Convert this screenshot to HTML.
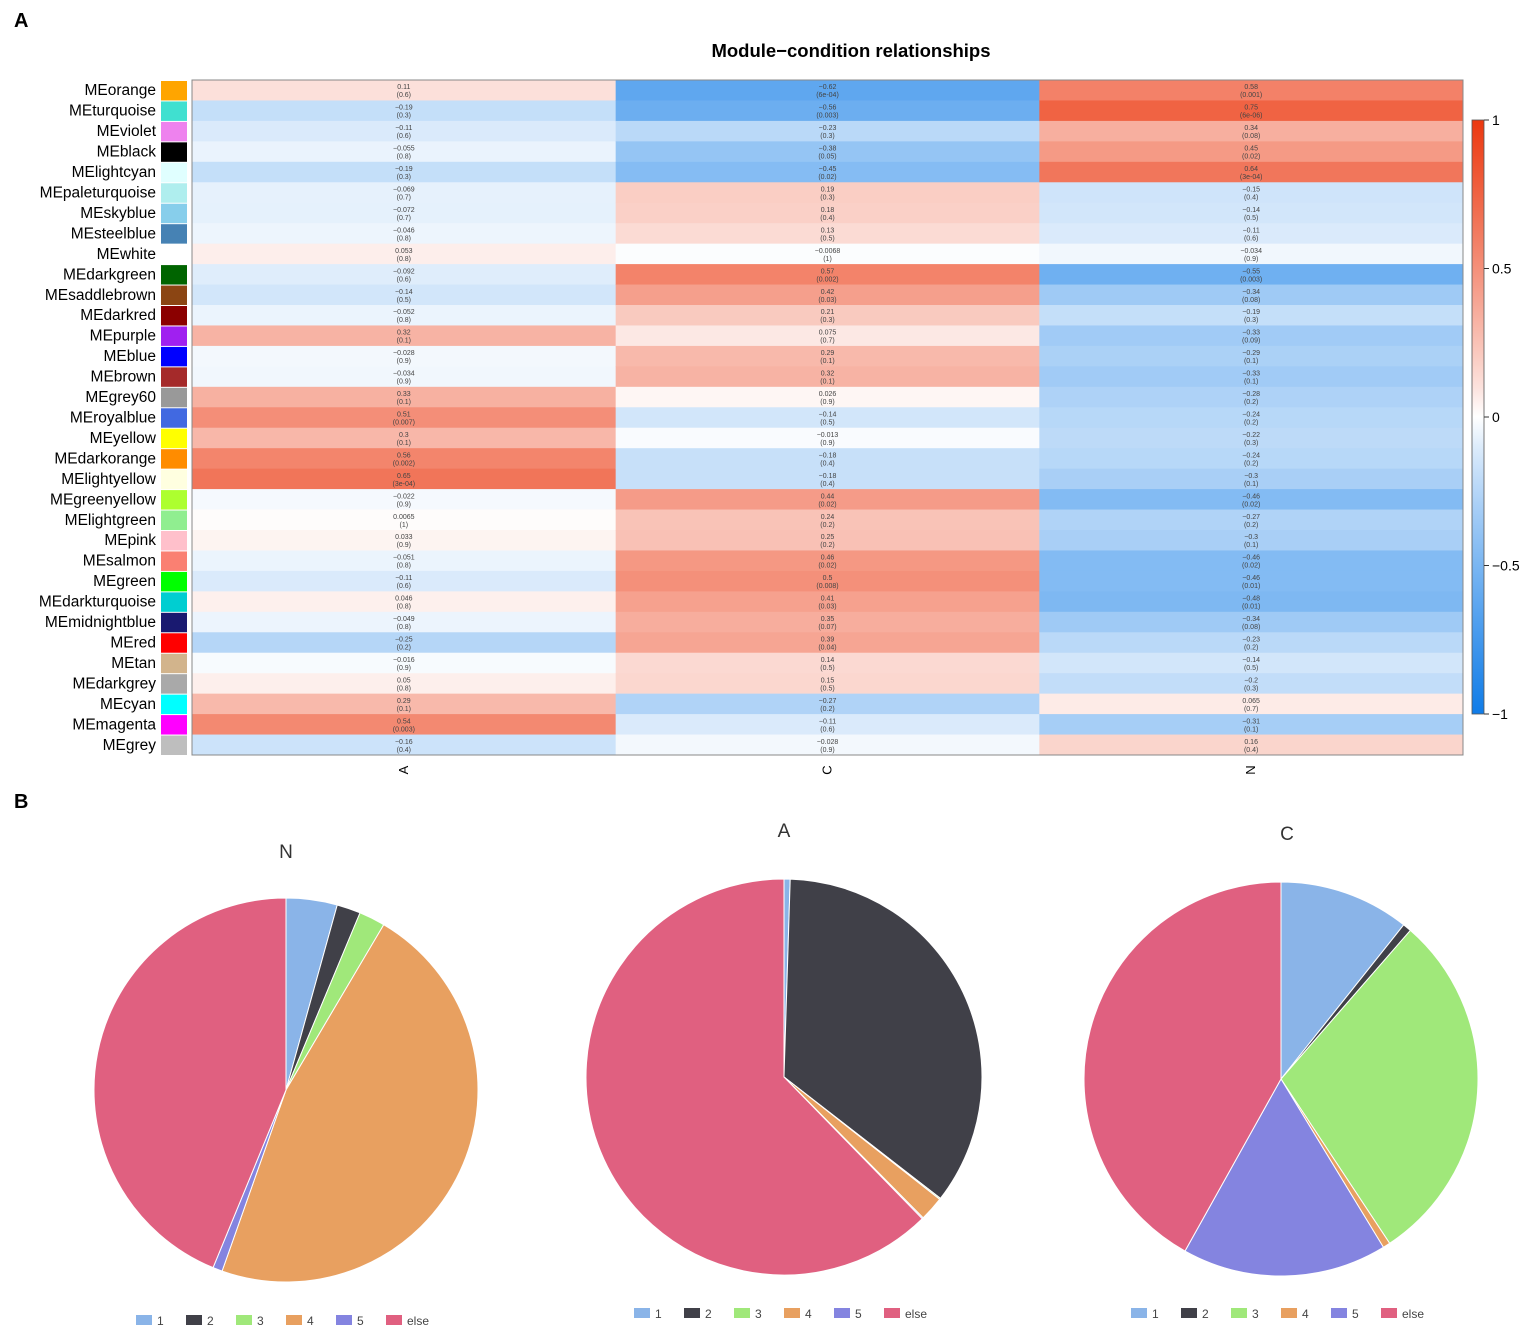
<!DOCTYPE html>
<html><head><meta charset="utf-8"><style>
body{margin:0;background:#fff;}
svg{display:block;font-family:"Liberation Sans",sans-serif;}
</style></head><body>
<svg id="fig" width="1535" height="1344">
<text x="14" y="27" font-size="20" font-weight="bold">A</text>
<text x="851" y="57" font-size="18.5" font-weight="bold" text-anchor="middle">Module−condition relationships</text>
<text x="14" y="808" font-size="20" font-weight="bold">B</text>
<g id="heat"></g>
<g id="legend"></g>
<g id="pies"></g>
</svg>
<script>
const modules=["orange","turquoise","violet","black","lightcyan","paleturquoise","skyblue","steelblue","white","darkgreen","saddlebrown","darkred","purple","blue","brown","grey60","royalblue","yellow","darkorange","lightyellow","greenyellow","lightgreen","pink","salmon","green","darkturquoise","midnightblue","red","tan","darkgrey","cyan","magenta","grey"];
const swatches=["#FFA500","#40E0D0","#EE82EE","#000000","#E0FFFF","#AFEEEE","#87CEEB","#4682B4","#FFFFFF","#006400","#8B4513","#8B0000","#A020F0","#0000FF","#A52A2A","#999999","#4169E1","#FFFF00","#FF8C00","#FFFFE0","#ADFF2F","#90EE90","#FFC0CB","#FA8072","#00FF00","#00CED1","#191970","#FF0000","#D2B48C","#A9A9A9","#00FFFF","#FF00FF","#BEBEBE"];
const conditions=["A","C","N"];
const corA=[0.11,-0.19,-0.11,-0.055,-0.19,-0.069,-0.072,-0.046,0.053,-0.092,-0.14,-0.052,0.32,-0.028,-0.034,0.33,0.51,0.3,0.56,0.65,-0.022,0.0065,0.033,-0.051,-0.11,0.046,-0.049,-0.25,-0.016,0.05,0.29,0.54,-0.16];
const pA=["0.6","0.3","0.6","0.8","0.3","0.7","0.7","0.8","0.8","0.6","0.5","0.8","0.1","0.9","0.9","0.1","0.007","0.1","0.002","3e-04","0.9","1","0.9","0.8","0.6","0.8","0.8","0.2","0.9","0.8","0.1","0.003","0.4"];
const corC=[-0.62,-0.56,-0.23,-0.38,-0.45,0.19,0.18,0.13,-0.0068,0.57,0.42,0.21,0.075,0.29,0.32,0.026,-0.14,-0.013,-0.18,-0.18,0.44,0.24,0.25,0.46,0.5,0.41,0.35,0.39,0.14,0.15,-0.27,-0.11,-0.028];
const pC=["6e-04","0.003","0.3","0.05","0.02","0.3","0.4","0.5","1","0.002","0.03","0.3","0.7","0.1","0.1","0.9","0.5","0.9","0.4","0.4","0.02","0.2","0.2","0.02","0.008","0.03","0.07","0.04","0.5","0.5","0.2","0.6","0.9"];
const corN=[0.58,0.75,0.34,0.45,0.64,-0.15,-0.14,-0.11,-0.034,-0.55,-0.34,-0.19,-0.33,-0.29,-0.33,-0.28,-0.24,-0.22,-0.24,-0.3,-0.46,-0.27,-0.3,-0.46,-0.46,-0.48,-0.34,-0.23,-0.14,-0.2,0.065,-0.31,0.16];
const pN=["0.001","6e-06","0.08","0.02","3e-04","0.4","0.5","0.6","0.9","0.003","0.08","0.3","0.09","0.1","0.1","0.2","0.2","0.3","0.2","0.1","0.02","0.2","0.1","0.02","0.01","0.01","0.08","0.2","0.5","0.3","0.7","0.1","0.4"];
const scaleTicks=[1,0.5,0,-0.5,-1];
const pieTitles=["N","A","C"];
const pieLabels=["1","2","3","4","5","else"];
const pieN=[4.3,2.0,2.2,46.9,0.8,43.8];
const pieA=[0.5,35.0,0.1,2.0,0.1,62.3];
const pieC=[10.7,0.7,29.3,0.6,16.8,41.9];

const NS="http://www.w3.org/2000/svg";
function mk(tag,attrs,parent,txt){const e=document.createElementNS(NS,tag);for(const k in attrs)e.setAttribute(k,attrs[k]);if(txt!==undefined)e.textContent=txt;parent.appendChild(e);return e;}
function col(v){let r,g,b;if(v>=0){const t=Math.pow(v,0.85);r=255-t*(255-236);g=255-t*(255-56);b=255-t*(255-16);}else{const t=Math.pow(-v,0.85);r=255-t*(255-16);g=255-t*(255-124);b=255-t*(255-232);}return `rgb(${r|0},${g|0},${b|0})`;}
const X0=192,X1=1463,Y0=80,Y1=755;
const n=modules.length,rh=(Y1-Y0)/n,cw=(X1-X0)/3;
const xPos=i=>X0+i*cw, yPos=i=>Y0+i*rh;
const heat=document.getElementById('heat');
const cors=[corA,corC,corN],ps=[pA,pC,pN];
for(let c=0;c<3;c++){for(let r=0;r<n;r++){
 const rect=mk('rect',{x:xPos(c),y:yPos(r),width:cw+0.5,height:rh+0.5,fill:col(cors[c][r])},heat);
 
 
 const t=mk('text',{x:xPos(c)+cw/2,y:yPos(r)+rh/2-1,'font-size':7,'text-anchor':'middle',fill:'#444'},heat,(cors[c][r]<0?'−':'')+Math.abs(cors[c][r]));
 
 
 const t2=mk('text',{x:xPos(c)+cw/2,y:yPos(r)+rh/2+7,'font-size':7,'text-anchor':'middle',fill:'#444'},heat,'('+ps[c][r]+')');
 
 
}
 const cl=mk('text',{x:0,y:0,'font-size':13,'text-anchor':'middle',transform:`translate(${xPos(c)+cw/2+4},770) rotate(-90)`},heat,conditions[c]);
 
 
}
mk('rect',{x:X0,y:Y0,width:X1-X0,height:Y1-Y0,fill:'none',stroke:'#888','stroke-width':1},heat);
for(let r=0;r<n;r++){
 const sw=mk('rect',{x:161,y:yPos(r)+1,width:26,height:rh-1,fill:swatches[r]},heat);
 
 
 const lb=mk('text',{x:156,y:yPos(r)+rh/2+5,'font-size':15.5,'text-anchor':'end'},heat,'ME'+modules[r]);
 
 
}
// legend
const lg=document.getElementById('legend');
const defs=mk('defs',{},lg);
const gr=mk('linearGradient',{id:'cg',x1:0,y1:0,x2:0,y2:1},defs);
for(let i=0;i<=20;i++){const v=1-i/10;mk('stop',{offset:(i/20),'stop-color':col(v)},gr);}
const LY0=120,LY1=714;const ly=v=>LY0+(1-v)/2*(LY1-LY0);
mk('rect',{x:1472,y:LY0,width:12,height:LY1-LY0,fill:'url(#cg)',stroke:'#555','stroke-width':0.8},lg);
scaleTicks.forEach(v=>{mk('line',{x1:1484,x2:1489,y1:ly(v),y2:ly(v),stroke:'#333'},lg);
 const t=mk('text',{x:1492,y:ly(v)+5,'font-size':14},lg,(v<0?'−':'')+Math.abs(v));
 
 });
// pies
const pieColors=["#8ab4e8","#404048","#a0e87a","#e8a060","#8484e0","#e06080"];
const pies=document.getElementById('pies');
const pieData=[pieN,pieA,pieC];
const geo=[{cx:286,cy:1090,r:192,ty:858,ly:1324},{cx:784,cy:1077,r:198,ty:837,ly:1317},{cx:1281,cy:1079,r:197,ty:840,ly:1317}];
pieData.forEach((d,pi)=>{const g=geo[pi];const tot=d.reduce((a,b)=>a+b,0);let a=0;
 const tt=mk('text',{x:g.cx+(pi==2?6:0),y:g.ty,'font-size':19,'text-anchor':'middle',fill:'#333'},pies,pieTitles[pi]);
 
 
 d.forEach((v,i)=>{const a0=a/tot*2*Math.PI;a+=v;const a1=a/tot*2*Math.PI;
  const x0=g.cx+g.r*Math.sin(a0),y0=g.cy-g.r*Math.cos(a0),x1=g.cx+g.r*Math.sin(a1),y1=g.cy-g.r*Math.cos(a1);
  const p=mk('path',{d:`M${g.cx},${g.cy}L${x0},${y0}A${g.r},${g.r} 0 ${(a1-a0)>Math.PI?1:0} 1 ${x1},${y1}Z`,fill:pieColors[i],stroke:'#fff','stroke-width':1},pies);
  
  
 });
 const lx0=g.cx-150;
 pieLabels.forEach((l,i)=>{const lx=lx0+i*50;
  const r=mk('rect',{x:lx,y:g.ly-9,width:16,height:10,fill:pieColors[i]},pies);
  
  
  const t=mk('text',{x:lx+21,y:g.ly+1,'font-size':12,fill:'#444'},pies,l);
  
  
 });
});
</script>
</body></html>
